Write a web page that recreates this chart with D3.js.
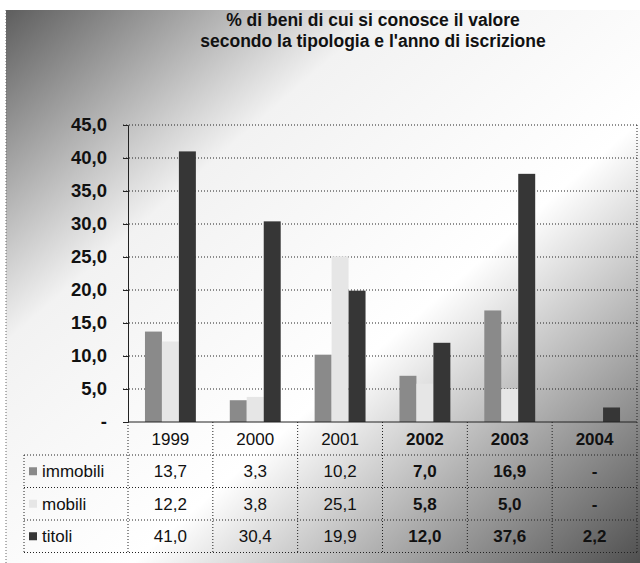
<!DOCTYPE html>
<html lang="it">
<head>
  <meta charset="utf-8">
  <title>% di beni di cui si conosce il valore</title>
  <style>
    body { margin: 0; background: #fff; font-family: "Liberation Sans", Arial, sans-serif; }
    svg text { fill: #111; }
  </style>
</head>
<body>
  <svg id="chart"></svg>

  <script src="https://d3js.org/d3.v7.min.js"></script>
  <script>
    // data
    const years = ["1999", "2000", "2001", "2002", "2003", "2004"];
    const series = ["immobili", "mobili", "titoli"];
    const immobili = [13.7, 3.3, 10.2, 7.0, 16.9, null];
    const mobili = [12.2, 3.8, 25.1, 5.8, 5.0, null];
    const titoli = [41.0, 30.4, 19.9, 12.0, 37.6, 2.2];
    const yTicks = [0, 5, 10, 15, 20, 25, 30, 35, 40, 45];
    const titleLines = [
      "% di beni di cui si conosce il valore",
      "secondo la tipologia e l'anno di iscrizione"
    ];

    const values = { immobili, mobili, titoli };
    const colors = { immobili: "#8a8a8a", mobili: "#e6e6e6", titoli: "#363636" };

    const width = 640, height = 563;
    const plotLeft = 128, plotRight = 637, plotTop = 125, zeroY = 422;
    const headerH = 33, rowH = 32.5, labelLeft = 24;

    const fmt = v => v == null ? "-" : d3.format(".1f")(v).replace(".", ",");

    const svg = d3.select("#chart")
      .attr("width", width)
      .attr("height", height);

    // diagonal grey-white-grey background of the scan
    const grad = svg.append("defs").append("linearGradient")
      .attr("id", "bg")
      .attr("x1", 0).attr("y1", 0).attr("x2", 1).attr("y2", 1);
    grad.append("stop").attr("offset", 0).attr("stop-color", "#5e5e5e");
    grad.append("stop").attr("offset", 0.3).attr("stop-color", "#f2f2f2");
    grad.append("stop").attr("offset", 0.6).attr("stop-color", "#ffffff");
    grad.append("stop").attr("offset", 0.78).attr("stop-color", "#b0b0b0");
    grad.append("stop").attr("offset", 1).attr("stop-color", "#505050");

    svg.append("rect")
      .attr("x", 6).attr("y", 10)
      .attr("width", width - 6).attr("height", height - 10)
      .attr("fill", "url(#bg)");
    svg.append("line")
      .attr("x1", 6).attr("x2", 6).attr("y1", 10).attr("y2", height)
      .attr("stroke", "#666").attr("stroke-dasharray", "1,2");

    // title
    svg.append("g").selectAll("text")
      .data(titleLines)
      .join("text")
      .attr("x", 373)
      .attr("y", (d, i) => 26 + i * 21)
      .attr("text-anchor", "middle")
      .attr("font-size", 17.5)
      .attr("font-weight", "bold")
      .text(d => d);

    const x = d3.scaleBand().domain(years).range([plotLeft, plotRight]);
    const xs = d3.scaleBand().domain(series).range([x.bandwidth() * 0.2, x.bandwidth() * 0.8]);
    const y = d3.scaleLinear().domain([0, 45]).range([zeroY, plotTop]);

    // gridlines
    svg.append("g")
      .selectAll("line")
      .data(yTicks.slice(1))
      .join("line")
      .attr("x1", plotLeft - 5).attr("x2", plotRight)
      .attr("y1", d => y(d)).attr("y2", d => y(d))
      .attr("stroke", "#222")
      .attr("stroke-dasharray", "1,2");

    // y axis
    const yAxis = svg.append("g")
      .attr("transform", `translate(${plotLeft},0)`)
      .call(d3.axisLeft(y).tickValues(yTicks).tickSize(5).tickPadding(16)
        .tickFormat(d => d === 0 ? "-" : fmt(d)));
    yAxis.select(".domain").attr("stroke", "#222");
    yAxis.selectAll(".tick line").attr("stroke", "#222");
    yAxis.selectAll("text")
      .attr("font-size", 18.5)
      .attr("font-weight", "bold")
      .attr("font-family", "'Liberation Sans', Arial, sans-serif")
      .attr("fill", "#111");

    // right border of the plot
    svg.append("line")
      .attr("x1", plotRight).attr("x2", plotRight).attr("y1", plotTop).attr("y2", zeroY)
      .attr("stroke", "#222").attr("stroke-dasharray", "1,2");

    // bars
    const groups = svg.append("g")
      .selectAll("g")
      .data(series)
      .join("g")
      .attr("fill", s => colors[s]);

    groups.selectAll("rect")
      .data(s => years.map((yr, i) => ({ s, yr, v: values[s][i] })).filter(d => d.v != null))
      .join("rect")
      .attr("x", d => x(d.yr) + xs(d.s))
      .attr("y", d => y(d.v))
      .attr("width", xs.bandwidth())
      .attr("height", d => y(0) - y(d.v));

    // data table
    const table = svg.append("g");
    const bottom = zeroY + headerH + rowH * series.length;
    const rowTop = i => zeroY + headerH + rowH * i;

    table.append("line")
      .attr("x1", plotLeft).attr("x2", plotRight).attr("y1", zeroY).attr("y2", zeroY)
      .attr("stroke", "#222");

    // horizontal lines
    table.selectAll("line.h")
      .data(d3.range(series.length + 1))
      .join("line")
      .attr("class", "h")
      .attr("x1", labelLeft).attr("x2", plotRight)
      .attr("y1", i => rowTop(i)).attr("y2", i => rowTop(i))
      .attr("stroke", "#222").attr("stroke-dasharray", "1,2");

    // vertical lines
    table.selectAll("line.v")
      .data(years.map(yr => x(yr)).concat([plotRight]))
      .join("line")
      .attr("class", "v")
      .attr("x1", d => d).attr("x2", d => d)
      .attr("y1", zeroY).attr("y2", bottom)
      .attr("stroke", "#222").attr("stroke-dasharray", "1,2");
    table.append("line")
      .attr("x1", labelLeft).attr("x2", labelLeft)
      .attr("y1", rowTop(0)).attr("y2", bottom)
      .attr("stroke", "#222").attr("stroke-dasharray", "1,2");

    // year header
    table.selectAll("text.year")
      .data(years)
      .join("text")
      .attr("class", "year")
      .attr("x", d => x(d) + x.bandwidth() / 2)
      .attr("y", zeroY + headerH / 2)
      .attr("dy", "0.36em")
      .attr("text-anchor", "middle")
      .attr("font-size", 17)
      .attr("font-weight", (d, i) => i >= 3 ? "bold" : "normal")
      .text(d => d);

    // series rows
    const rows = table.selectAll("g.row")
      .data(series)
      .join("g")
      .attr("class", "row")
      .attr("transform", (s, i) => `translate(0,${rowTop(i) + rowH / 2})`);

    rows.append("rect")
      .attr("x", 29).attr("y", -4)
      .attr("width", 8).attr("height", 8)
      .attr("fill", s => colors[s]);

    rows.append("text")
      .attr("x", 42)
      .attr("dy", "0.36em")
      .attr("font-size", 17)
      .text(s => s);

    rows.selectAll("text.val")
      .data(s => values[s].map((v, i) => ({ v, yr: years[i], i })))
      .join("text")
      .attr("class", "val")
      .attr("x", d => x(d.yr) + x.bandwidth() / 2)
      .attr("dy", "0.36em")
      .attr("text-anchor", "middle")
      .attr("font-size", 17)
      .attr("font-weight", d => d.i >= 3 ? "bold" : "normal")
      .text(d => fmt(d.v));
  </script>
</body>
</html>
